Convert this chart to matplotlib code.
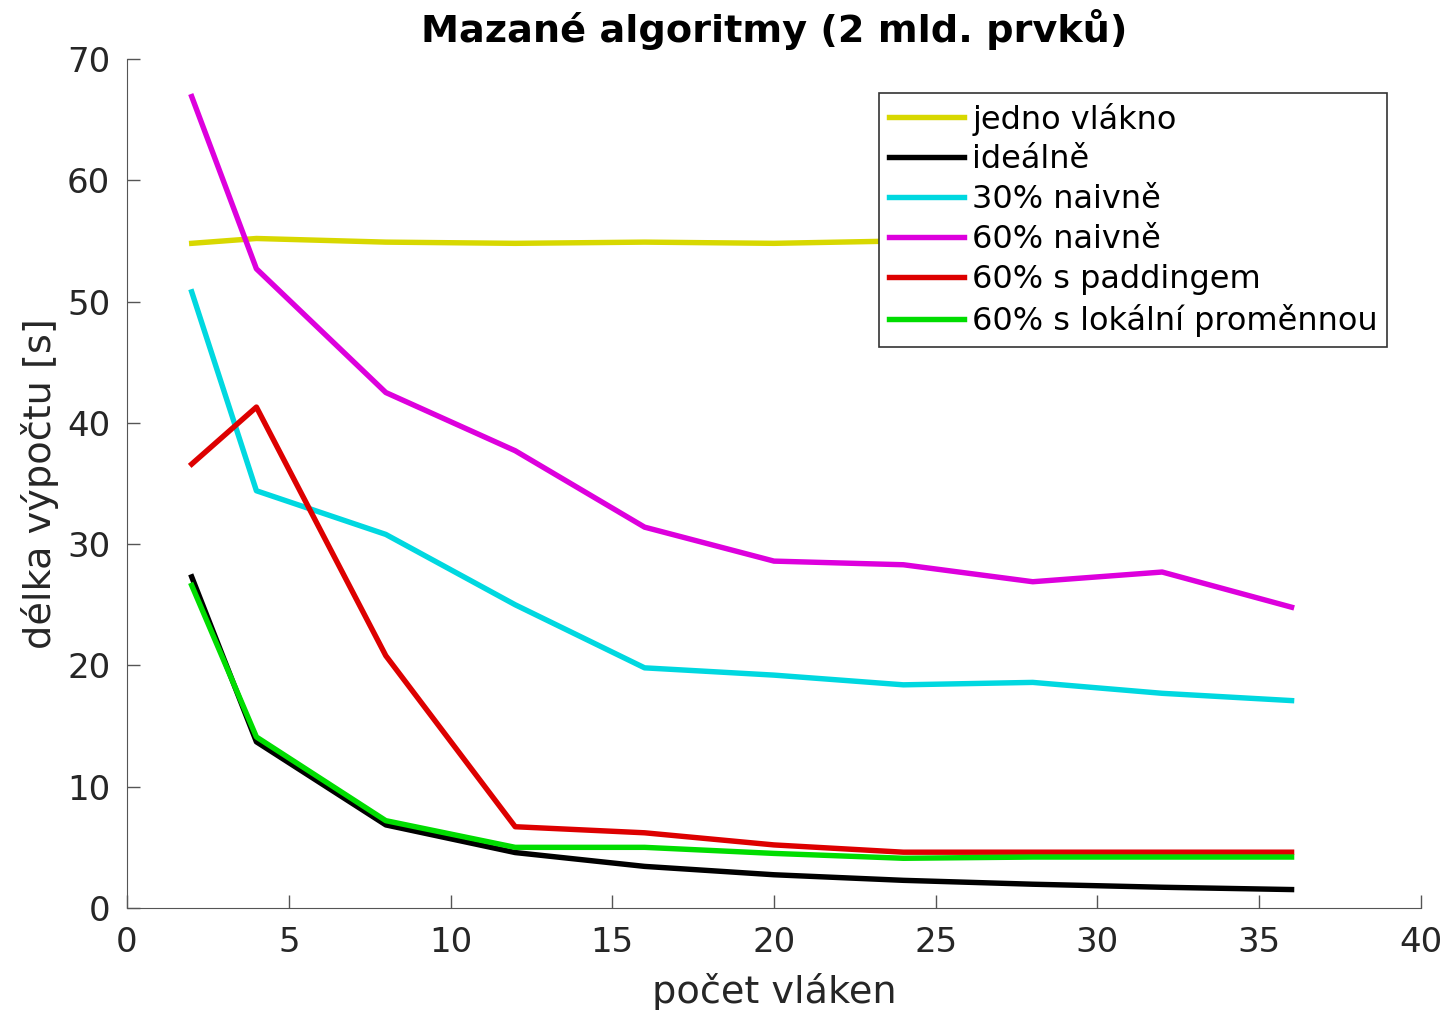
import matplotlib
matplotlib.use("Agg")
import matplotlib.pyplot as plt

threads = [2, 4, 8, 12, 16, 20, 24, 28, 32, 36]

single = [54.8, 55.2, 54.9, 54.8, 54.9, 54.8, 55.0, 55.0, 55.0, 55.0]
ideal = [27.3, 13.7, 6.85, 4.57, 3.43, 2.74, 2.28, 1.96, 1.71, 1.52]
naive30 = [50.8, 34.4, 30.8, 25.0, 19.8, 19.2, 18.4, 18.6, 17.7, 17.1]
naive60 = [66.9, 52.7, 42.5, 37.7, 31.4, 28.6, 28.3, 26.9, 27.7, 24.8]
padding60 = [36.6, 41.3, 20.8, 6.7, 6.2, 5.2, 4.6, 4.6, 4.6, 4.6]
local60 = [26.6, 14.1, 7.2, 5.0, 5.0, 4.5, 4.1, 4.2, 4.2, 4.2]

series = [
    ("jedno vlákno", single, "#d8d800"),
    ("ideálně", ideal, "#000000"),
    ("30% naivně", naive30, "#00d8e0"),
    ("60% naivně", naive60, "#dd00dd"),
    ("60% s paddingem", padding60, "#dd0000"),
    ("60% s lokální proměnnou", local60, "#00dd00"),
]

fig = plt.figure(figsize=(14.55, 10.1), dpi=100)
ax = fig.add_axes([0.0873, 0.101, 0.8893, 0.8406])

for label, vals, color in series:
    ax.plot(threads, vals, color=color, linewidth=3.9, label=label)

ax.set_xlim(0, 40)
ax.set_ylim(0, 70)
ax.set_xticks(range(0, 41, 5))
ax.set_yticks(range(0, 71, 10))
ax.spines["top"].set_visible(False)
ax.spines["right"].set_visible(False)
for s in ("left", "bottom"):
    ax.spines[s].set_color("#555555")
ax.tick_params(direction="in", length=9.5, width=1, colors="#555555",
               labelcolor="#262626", labelsize=24.5)
ax.tick_params(axis="x", pad=13)
ax.tick_params(axis="y", pad=12)

ax.set_xlabel("počet vláken", fontsize=27.5, color="#262626", labelpad=10)
ax.set_ylabel("délka výpočtu [s]", fontsize=27.5, color="#262626", labelpad=6)
ax.set_title("Mazané algoritmy (2 mld. prvků)", fontsize=27.5, fontweight="bold", pad=12)

leg = ax.legend(loc="upper right", bbox_to_anchor=(0.974, 0.96), fontsize=23,
                frameon=True, fancybox=False, framealpha=1, handlelength=2.35,
                handletextpad=0.25, labelspacing=0.28, borderpad=0.3,
                borderaxespad=0)
leg.get_frame().set_edgecolor("#333333")
leg.get_frame().set_linewidth(1.2)

fig.savefig("out.png", dpi=100, facecolor="white")
